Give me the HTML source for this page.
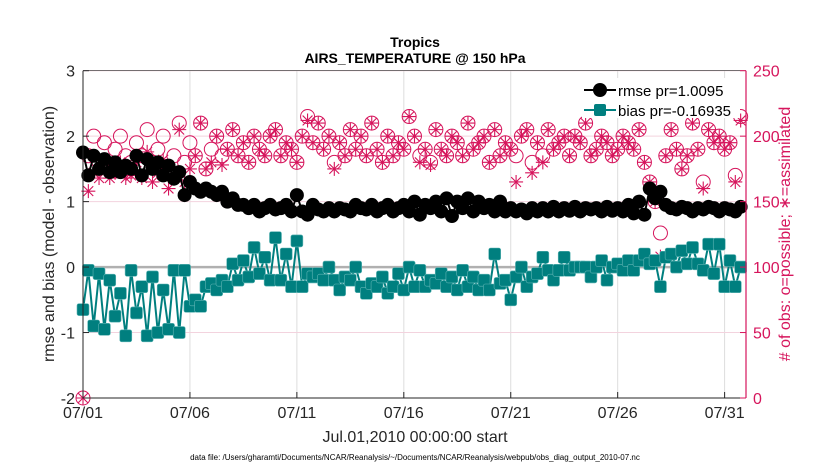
<!DOCTYPE html>
<html><head><meta charset="utf-8">
<style>
body{margin:0;background:#fff;}
svg text{font-family:"Liberation Sans",sans-serif;}
</style></head>
<body>
<svg id="chart" width="830" height="470" viewBox="0 0 830 470" xmlns="http://www.w3.org/2000/svg">
<rect width="830" height="470" fill="#fff"/>
<g id="grid"></g>
<g id="series"></g>
<g id="axes"></g>
</svg>
<script>
const xTickLabels=["07/01","07/06","07/11","07/16","07/21","07/26","07/31"];
const xTickDays=[0,5,10,15,20,25,30];
const leftTicks=[-2,-1,0,1,2,3];
const rightTicks=[0,50,100,150,200,250];
const rmse=[1.75,1.4,1.7,1.5,1.65,1.45,1.6,1.45,1.55,1.5,1.7,1.4,1.65,1.5,1.6,1.4,1.55,1.35,1.45,1.1,
1.3,1.2,1.15,1.2,1.15,1.1,1.15,1.0,
1.05,0.95,0.95,0.9,0.95,0.85,0.9,0.95,0.88,0.9,0.95,0.85,1.1,0.85,0.8,0.95,
0.88,0.85,0.9,0.85,0.9,0.88,0.85,0.95,0.9,0.88,0.95,0.85,0.9,0.95,0.85,0.9,
0.95,0.85,1.0,0.8,0.95,0.9,1.0,0.85,1.05,0.78,1.0,0.9,1.05,0.85,1.0,0.9,0.95,0.85,1.0,0.85,
0.9,0.85,0.88,0.82,0.9,0.85,0.9,0.85,0.92,0.85,0.9,0.86,0.92,0.85,0.9,0.88,0.9,0.85,0.92,0.86,0.9,0.85,0.95,0.82,
1.0,0.8,1.2,1.05,1.15,0.95,0.9,0.88,0.92,0.9,0.85,0.9,0.88,0.92,0.9,0.85,0.9,0.88,0.85,0.92];
const bias=[-0.65,-0.05,-0.9,-0.1,-0.95,-0.2,-0.75,-0.4,-1.05,-0.05,-0.7,-0.3,-1.05,-0.15,-1.0,-0.35,-0.95,-0.05,-1.0,-0.05,
-0.6,-0.5,-0.6,-0.3,-0.25,-0.35,-0.2,-0.3,
0.05,-0.2,0.1,-0.15,0.3,-0.1,0.15,-0.2,0.45,-0.2,0.2,-0.3,0.4,-0.3,-0.1,-0.15,
-0.1,-0.2,0.0,-0.2,-0.35,-0.15,-0.2,0.0,-0.3,-0.4,-0.25,-0.3,-0.15,-0.4,-0.3,-0.1,
-0.35,0.0,-0.3,-0.05,-0.3,-0.2,-0.25,-0.1,-0.3,-0.15,-0.35,-0.05,-0.3,-0.15,-0.35,-0.2,-0.35,0.2,-0.25,-0.2,
-0.5,-0.15,0.0,-0.3,-0.15,-0.1,0.15,-0.05,-0.2,-0.05,0.15,-0.05,0.0,0.0,0.0,-0.15,0.0,0.1,-0.2,0.0,0.05,-0.05,0.1,-0.05,
0.1,0.2,0.05,0.1,-0.3,0.15,0.2,0.0,0.25,0.05,0.3,0.05,-0.05,0.35,-0.1,0.35,-0.3,0.1,-0.3,0.0];
const possible=[0,185,200,180,195,175,190,200,185,180,195,185,205,180,190,200,175,185,210,180,
195,185,210,175,190,200,185,190,205,185,195,180,200,190,185,200,205,185,195,190,180,200,215,195,
210,190,200,180,195,185,205,190,200,185,210,190,180,200,185,195,
190,215,200,185,190,180,205,190,185,200,195,185,210,190,195,200,180,205,185,195,
190,185,200,205,180,195,185,205,190,195,200,185,200,195,210,185,190,200,195,185,190,200,195,190,
205,180,165,150,126,185,205,190,175,185,210,190,165,205,195,200,190,195,170,215];
const assimilated=[0,158,172,168,175,168,172,180,168,170,180,168,188,165,172,182,160,170,205,165,
175,185,210,175,180,200,178,190,205,185,195,180,200,190,185,200,205,185,195,190,180,200,212,195,
210,190,200,175,195,185,205,190,200,185,210,190,180,200,185,195,
190,215,200,180,190,178,205,190,185,200,195,185,210,190,195,200,180,205,185,195,
190,165,200,205,172,195,180,205,190,195,200,185,200,195,210,185,190,200,195,185,190,200,195,190,
205,180,165,150,108,185,205,190,175,185,210,190,160,205,195,200,190,195,165,212];

const X0=83,X1=746,YT=70.7,YB=398;
const NS="http://www.w3.org/2000/svg";
const PINK="#d6155c",TEAL="#007f7f";
function xDay(d){return X0+(X1-X0)*d/31;}
function yL(v){return YB-(v+2)/5*(YB-YT);}
function yR(v){return YB-v/250*(YB-YT);}
function mk(tag,attrs,parent){const e=document.createElementNS(NS,tag);for(const k in attrs)e.setAttribute(k,attrs[k]);parent.appendChild(e);return e;}
const grid=document.getElementById('grid'),ser=document.getElementById('series'),ax=document.getElementById('axes');

xTickDays.forEach((d,i)=>{
 const g=mk('line',{x1:xDay(d),x2:xDay(d),y1:YT,y2:YB,stroke:'#ddd','stroke-width':1},grid);
 
 
});
rightTicks.forEach(v=>{
 const g=mk('line',{x1:X0,x2:X1,y1:yR(v),y2:yR(v),stroke:'#f3d3de','stroke-width':1},grid);
 
 
});
const zl=mk('line',{x1:X0,x2:X1,y1:yL(0),y2:yL(0),stroke:'#b0b0b0','stroke-width':2.5},grid);



// possible circles
const gp=mk('g',{},ser);


possible.forEach((v,i)=>{
 const c=mk('circle',{cx:xDay(i/4),cy:yR(v),r:7,fill:'none',stroke:PINK,'stroke-width':1},gp);
 
 
});
const ga=mk('g',{},ser);


assimilated.forEach((v,i)=>{
 const x=xDay(i/4),y=yR(v),s=7;
 const p=mk('path',{d:`M${x-s} ${y}H${x+s}M${x} ${y-s}V${y+s}M${x-s*0.7} ${y-s*0.7}L${x+s*0.7} ${y+s*0.7}M${x-s*0.7} ${y+s*0.7}L${x+s*0.7} ${y-s*0.7}`,stroke:PINK,'stroke-width':1.1,fill:'none'},ga);
 
 
});
// rmse
const gr=mk('g',{},ser);


const rl=mk('polyline',{points:rmse.map((v,i)=>xDay(i/4)+','+yL(v)).join(' '),fill:'none',stroke:'#000','stroke-width':2},gr);


rmse.forEach((v,i)=>{
 const c=mk('circle',{cx:xDay(i/4),cy:yL(v),r:7,fill:'#000'},gr);
 
 
});
// bias
const gb=mk('g',{},ser);


const bl=mk('polyline',{points:bias.map((v,i)=>xDay(i/4)+','+yL(v)).join(' '),fill:'none',stroke:TEAL,'stroke-width':2},gb);


bias.forEach((v,i)=>{
 const r=mk('rect',{x:xDay(i/4)-6,y:yL(v)-6,width:12,height:12,rx:2,fill:TEAL,stroke:'#5fb5b5','stroke-width':0.6},gb);
 
 
});

// axes
const la=mk('path',{d:`M${X0} ${YT}V${YB}H${X1}`,stroke:'#262626','stroke-width':1,fill:'none'},ax);


const ra=mk('line',{x1:X1,x2:X1,y1:YT,y2:YB,stroke:PINK,'stroke-width':1.2},ax);


const ta=mk('line',{x1:X0,x2:X1,y1:YT,y2:YT,stroke:'#262626','stroke-width':0.6},ax);


xTickDays.forEach((d,i)=>{
 const t=mk('line',{x1:xDay(d),x2:xDay(d),y1:YB,y2:YB-6,stroke:'#262626'},ax);
 
 
 const l=mk('text',{x:xDay(d),y:YB+20,'font-size':16,'text-anchor':'middle',fill:'#262626'},ax);
 l.textContent=xTickLabels[i];
 
 
});
leftTicks.forEach(v=>{
 const t=mk('line',{x1:X0,x2:X0+6,y1:yL(v),y2:yL(v),stroke:'#262626'},ax);
 
 
 const l=mk('text',{x:X0-8,y:yL(v)+6,'font-size':16,'text-anchor':'end',fill:'#262626'},ax);
 l.textContent=v;
 
 
});
rightTicks.forEach(v=>{
 const t=mk('line',{x1:X1,x2:X1-6,y1:yR(v),y2:yR(v),stroke:PINK},ax);
 
 
 const l=mk('text',{x:X1+7,y:yR(v)+6,'font-size':16,fill:PINK},ax);
 l.textContent=v;
 
 
});
</script>
<svg style="position:absolute;left:0;top:0" width="830" height="470">
<text x="415" y="47" font-size="14" font-weight="bold" text-anchor="middle" fill="#000">Tropics</text>
<text x="415" y="63" font-size="14" font-weight="bold" text-anchor="middle" fill="#000">AIRS_TEMPERATURE @ 150 hPa</text>
<text x="415" y="442" font-size="16" text-anchor="middle" fill="#262626">Jul.01,2010 00:00:00 start</text>
<text x="415" y="460" font-size="8" text-anchor="middle" fill="#000">data file: /Users/gharamti/Documents/NCAR/Reanalysis/~/Documents/NCAR/Reanalysis/webpub/obs_diag_output_2010-07.nc</text>
<text transform="translate(54,234) rotate(-90)" font-size="16" text-anchor="middle" fill="#262626">rmse and bias (model - observation)</text>
<text transform="translate(790,234) rotate(-90)" font-size="16" text-anchor="middle" fill="#d6155c"># of obs: o=possible; ∗=assimilated</text>
<g>
<rect x="582" y="78" width="158" height="40" fill="#fff" stroke="none"/>
<line x1="584" y1="90" x2="616" y2="90" stroke="#000" stroke-width="2"/>
<circle cx="600" cy="90" r="7" fill="#000"/>
<text x="618" y="96" font-size="15" fill="#000">rmse pr=1.0095</text>
<line x1="584" y1="110" x2="616" y2="110" stroke="#007f7f" stroke-width="2"/>
<rect x="594" y="104" width="12" height="12" rx="2" fill="#007f7f"/>
<text x="618" y="116" font-size="15" fill="#000">bias pr=-0.16935</text>
</g>
</svg>
</body></html>
